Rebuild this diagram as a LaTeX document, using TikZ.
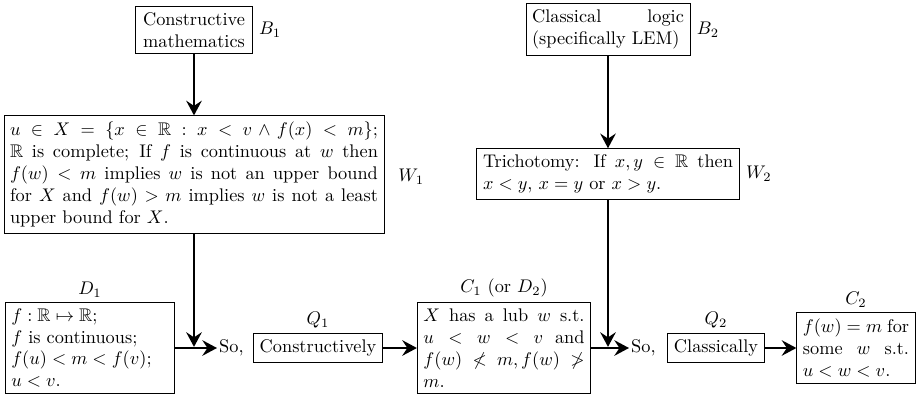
\documentclass[tikz,border=0pt]{standalone}
\usepackage{amssymb}
\usetikzlibrary{arrows.meta}
\begin{document}
\begin{tikzpicture}[x=0.5464pt,y=-0.5464pt,
  box/.style={draw, line width=0.5pt, inner sep=3.33pt, align=justify},
  cbox/.style={draw, line width=0.5pt, inner sep=3.33pt, align=center},
  sonode/.style={inner sep=1pt, anchor=west},
  label distance=-1pt,
  arr/.style={line width=1.1pt, -{Stealth[length=8pt,width=8.5pt,inset=2.8pt]}}]
\useasboundingbox (0,0) rectangle (917,394);
% top row
\node[cbox, text width=2cm, label={[label distance=0pt]right:$B_1$}] (B1) at (194,30) {Constructive\\mathematics};
\node[box, text width=201pt] (W1) at (194,174.5) {$u\in X=\{x\in\mathbb{R}: x<v\wedge f(x)<m\}$;\linebreak
 $\mathbb{R}$ is complete; If $f$ is continuous at $w$ then\linebreak
 $f(w)<m$ implies $w$ is not an upper bound\linebreak
 for $X$ and $f(w)>m$ implies $w$ is not a least\linebreak
 upper bound for $X$.};
\node[anchor=west] (W1lab) at (392,177) {$W_1$};
\node[box, text width=83pt, label={[label distance=0pt]right:$B_2$}] (B2) at (608,29.5) {Classical logic\linebreak (specifically LEM)};
\node[box, text width=136.6pt, label={[label distance=0pt]right:$W_2$}] (W2) at (608,174) {Trichotomy: If $x,y\in\mathbb{R}$ then\linebreak $x<y$, $x=y$ or $x>y$.};
% bottom row
\node[box, text width=86pt, label={above:$D_1$}] (D1) at (90,348) {$f:\mathbb{R}\mapsto\mathbb{R}$;\\ $f$ is continuous;\\ $f(u)<m<f(v)$;\\ $u<v$.};
\node[sonode] (So1) at (217,348) {So,};
\node[cbox, label={above:$Q_1$}] (Q1) at (318,348) {Constructively};
\node[box, text width=88pt, label={above:$C_1$ (or $D_2$)}] (C1) at (504,348) {$X$ has a lub $w$ s.t.\linebreak $u<w<v$ and\linebreak $f(w)\not< m, f(w)\not>$\linebreak $m$.};
\node[sonode] (So2) at (629,348) {So,};
\node[cbox, label={above:$Q_2$}] (Q2) at (716,348) {Classically};
\node[box, text width=58pt, label={above:$C_2$}] (C2) at (856,348) {$f(w)=m$ for\linebreak some $w$ s.t.\linebreak $u<w<v$.};
% connectors
\draw[arr] (B1) -- (W1);
\draw[arr, shorten >=0.6pt] (W1) -- (W1.south |- D1.east);
\draw[arr] (D1.east) -- (D1.east -| So1.west);
\draw[arr] (Q1.east) -- (Q1.east -| C1.west);
\draw[arr] (B2) -- (W2);
\draw[arr, shorten >=0.6pt] (W2) -- (W2.south |- C1.east);
\draw[arr] (C1.east) -- (C1.east -| So2.west);
\draw[arr] (Q2.east) -- (Q2.east -| C2.west);
\end{tikzpicture}
\end{document}
